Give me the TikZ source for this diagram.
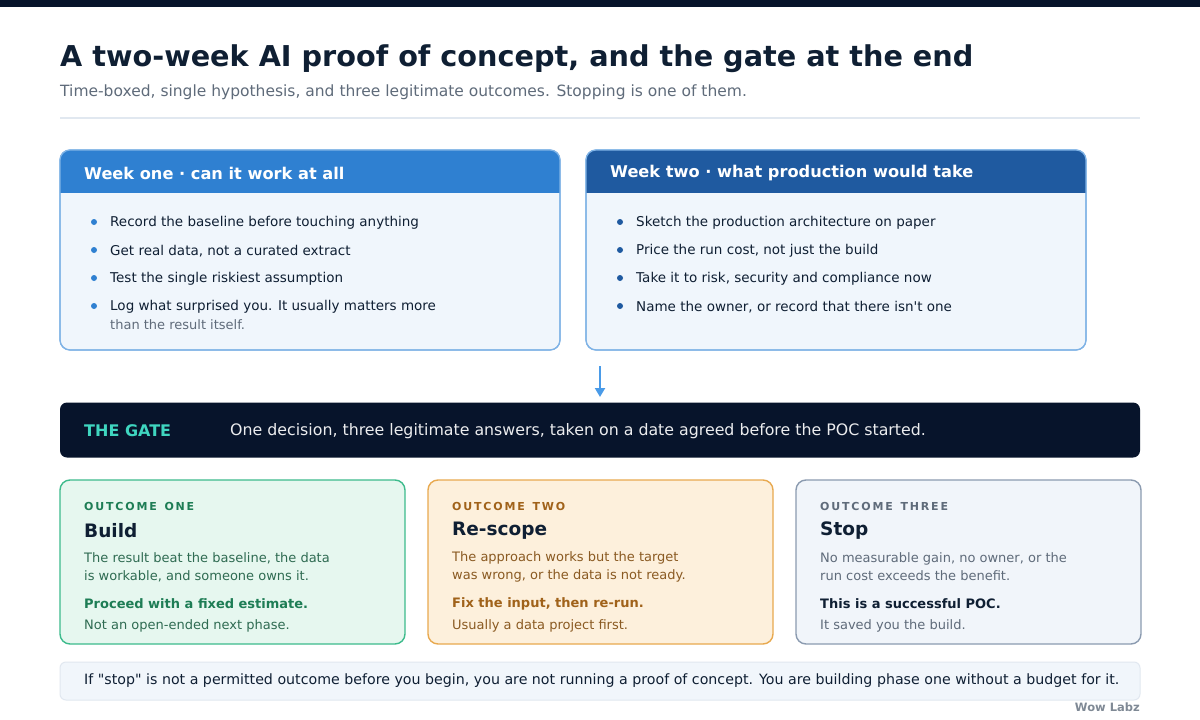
\documentclass[tikz,border=0pt]{standalone}
\usepackage{fontspec}
\setmainfont{DejaVu Sans}[Ligatures=TeXOff]
\usetikzlibrary{arrows.meta}
\begin{document}
\begin{tikzpicture}[x=1pt,y=-1pt,
  txt/.style={anchor=west,inner sep=0pt,font=\fontsize{13.5}{16}\selectfont},
  bul/.style={circle,fill=#1,inner sep=0pt,minimum size=6pt},
  olab/.style={anchor=west,inner sep=0pt,font=\fontsize{11}{13}\bfseries\selectfont},
  otit/.style={anchor=west,inner sep=0pt,font=\fontsize{18.5}{22}\bfseries\selectfont,text=ink},
  odesc/.style={anchor=west,inner sep=0pt,align=left,font=\fontsize{13}{18}\selectfont},
  hdr/.style={anchor=west,inner sep=0pt,text=white,font=\fontsize{16.2}{19}\bfseries\selectfont}]
\definecolor{ink}{HTML}{0F1F33}
\definecolor{sub}{HTML}{5F6B7A}
\definecolor{blueA}{HTML}{2F80D1}
\definecolor{blueB}{HTML}{1F5AA0}
\definecolor{bodyF}{HTML}{F0F6FC}
\definecolor{bodyB}{HTML}{7FB3E6}
\definecolor{gate}{HTML}{07142B}
\definecolor{teal}{HTML}{3FD6C0}
\definecolor{arr}{HTML}{4A9BE8}
\definecolor{gF}{HTML}{E6F7EF}\definecolor{gB}{HTML}{3DBB8C}\definecolor{gT}{HTML}{1E7D55}\definecolor{gD}{HTML}{2F6B52}
\definecolor{oF}{HTML}{FDF0DC}\definecolor{oB}{HTML}{E8A94F}\definecolor{oT}{HTML}{A0621A}\definecolor{oD}{HTML}{8A5A22}
\definecolor{sF}{HTML}{F1F5FA}\definecolor{sB}{HTML}{8B9BB0}\definecolor{sT}{HTML}{5F6B7A}
\definecolor{fF}{HTML}{F1F6FB}\definecolor{fB}{HTML}{E1E8F0}
\useasboundingbox (0,0) rectangle (1200,720);
\fill[white] (0,0) rectangle (1200,720);
\fill[gate] (0,0) rectangle (1200,7);
\node[anchor=base west,inner sep=0pt,text=ink,font=\fontsize{28.7}{32}\bfseries\selectfont] (title) at (60,66) {A two-week AI proof of concept, and the gate at the end};
\node[anchor=base west,inner sep=0pt,text=sub,font=\fontsize{15.5}{18}\selectfont] (subt) at (60,96) {Time-boxed, single hypothesis, and three legitimate outcomes. Stopping is one of them.};
\draw[fB,line width=1.2pt] (60,118) -- (1140,118);
% week boxes
\foreach \x/\c in {60/blueA,586/blueB}{
  \draw[bodyB,fill=bodyF,line width=1.2pt,rounded corners=10pt] (\x,150) rectangle (\x+500,350);
  \begin{scope}
  \clip[rounded corners=10pt] (\x,150) rectangle (\x+500,350);
  \fill[\c] (\x,150) rectangle (\x+500,193);
  \end{scope}
  \draw[bodyB,line width=1.2pt,rounded corners=10pt] (\x,150) rectangle (\x+500,350);
}
\node[hdr] (h1) at (84,173) {Week one · can it work at all};
\node[hdr] (h2) at (610,173) {Week two · what production would take};
\foreach \y/\t [count=\i] in {222/Record the baseline before touching anything,250/{Get real data, not a curated extract},278/Test the single riskiest assumption,306/Log what surprised you. It usually matters more}{
  \node[bul=blueA] (b1\i) at (94,\y) {};
  \node[txt,text=ink] (t1\i) at (110,\y+1) {\t};
}
\node[txt,text=sub,font=\fontsize{13}{16}\selectfont] (t15) at (110,325) {than the result itself.};
\foreach \y/\t [count=\i] in {222/Sketch the production architecture on paper,250/{Price the run cost, not just the build},278/{Take it to risk, security and compliance now},306/{Name the owner, or record that there isn't one}}{
  \node[bul=blueB] (b2\i) at (620,\y) {};
  \node[txt,text=ink] (t2\i) at (636,\y+1) {\t};
}
% arrow
\coordinate (a1) at (600,366);
\coordinate (a2) at (600,397);
\draw[color=arr,line width=2pt,-{Triangle[length=9pt,width=10pt]}] (a1) -- (a2);
% gate
\node[draw=none,fill=gate,rounded corners=7pt,minimum width=1080pt,minimum height=55pt,inner sep=0pt] (gatebox) at (600,430) {};
\node[anchor=west,inner sep=0pt,text=teal,font=\fontsize{16}{19}\bfseries\selectfont] (gt) at (84,431) {THE GATE};
\node[anchor=west,inner sep=0pt,text=white!92!gate,font=\fontsize{15.8}{19}\selectfont] (gtx) at (230,431) {One decision, three legitimate answers, taken on a date agreed before the POC started.};
% outcomes
\foreach \x/\f/\b in {60/gF/gB,428/oF/oB,796/sF/sB}{
  \draw[\b,fill=\f,line width=1.4pt,rounded corners=10pt] (\x,480) rectangle (\x+345,644);
}
\node[olab,text=gT] (o1l) at (84,506) {O\,U\,T\,C\,O\,M\,E\ \ O\,N\,E};
\node[otit] (o1t) at (84,531) {Build};
\node[odesc,text=gD] (o1d) at (84,567) {The result beat the baseline, the data\\is workable, and someone owns it.};
\node[odesc,text=gT,font=\fontsize{13}{16}\bfseries\selectfont] (o1b) at (84,604) {Proceed with a fixed estimate.};
\node[odesc,text=gD] (o1e) at (84,626) {Not an open-ended next phase.};
\node[olab,text=oT] (o2l) at (452,506) {O\,U\,T\,C\,O\,M\,E\ \ T\,W\,O};
\node[otit] (o2t) at (452,531) {Re-scope};
\node[odesc,text=oD] (o2d) at (452,567) {The approach works but the target\\was wrong, or the data is not ready.};
\node[odesc,text=oT,font=\fontsize{13}{16}\bfseries\selectfont] (o2b) at (452,604) {Fix the input, then re-run.};
\node[odesc,text=oD] (o2e) at (452,626) {Usually a data project first.};
\node[olab,text=sT] (o3l) at (820,506) {O\,U\,T\,C\,O\,M\,E\ \ T\,H\,R\,E\,E};
\node[otit] (o3t) at (820,531) {Stop};
\node[odesc,text=sT] (o3d) at (820,567) {No measurable gain, no owner, or the\\run cost exceeds the benefit.};
\node[odesc,text=ink,font=\fontsize{13}{16}\bfseries\selectfont] (o3b) at (820,604) {This is a successful POC.};
\node[odesc,text=sT] (o3e) at (820,626) {It saved you the build.};
% footer
\draw[fB,fill=fF,line width=1pt,rounded corners=6pt] (60,662) rectangle (1140,700);
\node[txt,text=ink,font=\fontsize{14.2}{16}\selectfont] (foot) at (84,681) {If "stop" is not a permitted outcome before you begin, you are not running a proof of concept. You are building phase one without a budget for it.};
\node[anchor=east,inner sep=0pt,text=sT!80,font=\fontsize{11.5}{13}\bfseries\selectfont] (wow) at (1140,707) {Wow Labz};
\end{tikzpicture}
\end{document}
